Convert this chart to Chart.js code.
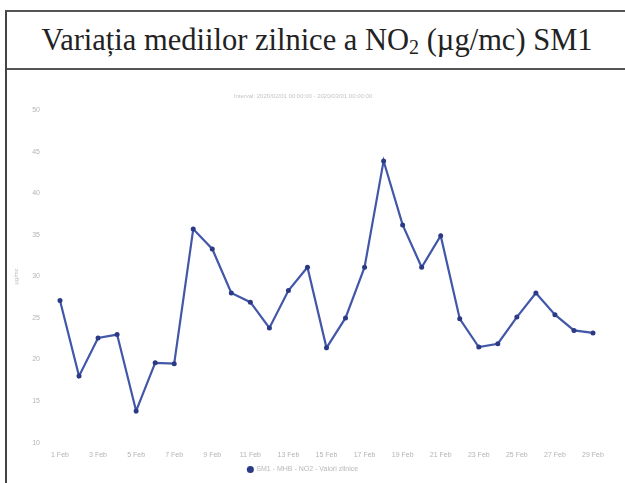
<!DOCTYPE html>
<html>
<head>
<meta charset="utf-8">
<script src="https://cdn.jsdelivr.net/npm/chart.js@4.4.0/dist/chart.umd.min.js"></script>
<style>
    body { margin: 0; background: #fff; width: 625px; height: 483px; overflow: hidden; position: relative; }
    #titlu {
        position: absolute; left: 5px; top: 10px; width: 630px; height: 56px;
        border-top: 2px solid #555; border-bottom: 2px solid #555; border-left: 2px solid #444;
        font-family: "Liberation Serif", serif; font-size: 30.5px; color: #222;
        line-height: 56px; text-align: center; text-indent: -10px;
    }
    #titlu sub { font-size: 20px; vertical-align: -4px; line-height: 0; }
    #stanga { position: absolute; left: 5px; top: 68px; width: 2px; height: 415px; background: #444; }
    #grafic { position: absolute; left: 7px; top: 68px; width: 618px; height: 415px; }
</style>
</head>
<body>
<div id="titlu">Variația mediilor zilnice a NO<sub>2</sub> (µg/mc) SM1</div>
<div id="stanga"></div>
<div id="grafic"><canvas id="variatie"></canvas></div>
<script>
// zilele din februarie 2020
var zile = ['1 Feb', '2 Feb', '3 Feb', '4 Feb', '5 Feb', '6 Feb', '7 Feb', '8 Feb', '9 Feb', '10 Feb',
    '11 Feb', '12 Feb', '13 Feb', '14 Feb', '15 Feb', '16 Feb', '17 Feb', '18 Feb', '19 Feb', '20 Feb',
    '21 Feb', '22 Feb', '23 Feb', '24 Feb', '25 Feb', '26 Feb', '27 Feb', '28 Feb', '29 Feb'];
// medii zilnice NO2 (ug/mc)
var valoriNO2 = [27.1, 18.0, 22.6, 23.0, 13.8, 19.6, 19.5, 35.7, 33.3, 28.0,
    26.9, 23.8, 28.3, 31.1, 21.4, 25.0, 31.1, 43.9, 36.2, 31.1,
    34.9, 24.9, 21.5, 21.9, 25.1, 28.0, 25.4, 23.5, 23.2];
var numeSerie = 'SM1 - MHB - NO2 - Valori zilnice';
var interval = 'Interval: 2020/02/01 00:00:00 - 2020/03/01 00:00:00';
var axaY = { min: 10, max: 50, pas: 5 };

Chart.defaults.font.family = 'Arial, "Liberation Sans", sans-serif';
Chart.defaults.color = '#b4b4b4';

new Chart(document.getElementById('variatie'), {
    type: 'line',
    data: {
        labels: zile,
        datasets: [{
            label: numeSerie,
            data: valoriNO2,
            borderColor: '#4257a8',
            backgroundColor: '#2b3a85',
            borderWidth: 2.2,
            pointRadius: 2.5,
            pointHoverRadius: 3,
            pointBorderWidth: 0,
            tension: 0
        }]
    },
    options: {
        responsive: true,
        maintainAspectRatio: false,
        animation: false,
        layout: { padding: { left: 6, right: 32, top: 25, bottom: 0 } },
        plugins: {
            subtitle: {
                display: true,
                text: interval,
                font: { size: 6 },
                color: '#c4c4c4',
                padding: { top: 0, bottom: 10 }
            },
            legend: {
                position: 'bottom',
                labels: {
                    usePointStyle: true,
                    pointStyle: 'circle',
                    boxWidth: 5,
                    boxHeight: 5,
                    font: { size: 7 },
                    color: '#b8b8b8',
                    padding: 7
                }
            },
            tooltip: { enabled: false }
        },
        scales: {
            x: {
                grid: { display: false },
                border: { display: false },
                ticks: {
                    font: { size: 7 },
                    maxRotation: 0,
                    autoSkip: false,
                    padding: 0,
                    callback: function (v, i) { return i % 2 === 0 ? zile[i] : ''; }
                }
            },
            y: {
                min: axaY.min,
                max: axaY.max,
                grid: { display: false },
                border: { display: false },
                title: { display: true, text: 'µg/mc', font: { size: 6 }, color: '#c0c0c0', padding: 0 },
                ticks: { stepSize: axaY.pas, font: { size: 7 }, padding: 12 }
            }
        }
    }
});
</script>
</body>
</html>
